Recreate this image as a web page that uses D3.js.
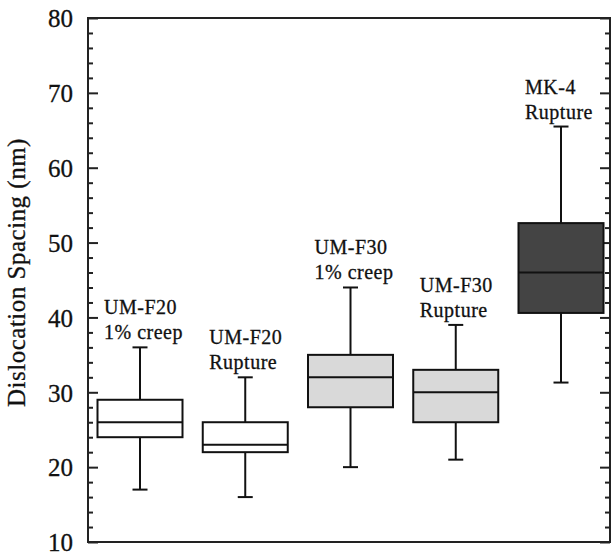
<!DOCTYPE html>
<html lang="en">
    <head>
        <script src="https://d3js.org/d3.v7.min.js"></script>
        <meta charset="UTF-8">
        <title>Dislocation Spacing</title>
        <style>
            body {
            margin: 0;
            background-color: #ffffff;
            }
            svg text {
            font-family: "Liberation Serif", "Times New Roman", serif;
            fill: #111;
            stroke: #111;
            stroke-width: 0.3px;
            }
        </style>
    </head>
    <body>
        <div id="chart"></div>
        <script>
            // categories and box statistics
            const groups = ["UM-F20 1% creep", "UM-F20 Rupture", "UM-F30 1% creep", "UM-F30 Rupture", "MK-4 Rupture"];
            const labelTop = ["UM-F20", "UM-F20", "UM-F30", "UM-F30", "MK-4"];
            const labelBottom = ["1% creep", "Rupture", "1% creep", "Rupture", "Rupture"];
            const whiskerMin = [17, 16, 20, 21, 31.3];
            const q1 = [24, 22, 28, 26, 40.6];
            const median = [26, 23, 32, 30, 46];
            const q3 = [29, 26, 35, 33, 52.6];
            const whiskerMax = [36, 32, 44, 39, 65.5];
            const yTicks = [10, 20, 30, 40, 50, 60, 70, 80];

            const width = 612, height = 552;
            const margin = { top: 18, right: 2, bottom: 10, left: 88 };

            const data = groups.map((g, i) => ({
                group: g, top: labelTop[i], bottom: labelBottom[i],
                min: whiskerMin[i], q1: q1[i], med: median[i], q3: q3[i], max: whiskerMax[i]
            }));

            const svg = d3.select("#chart")
                          .append("svg")
                          .attr("width", width)
                          .attr("height", height);

            const yScale = d3.scaleLinear()
                             .domain([10, 80])
                             .range([height - margin.bottom, margin.top]);

            const xScale = d3.scalePoint()
                             .domain(groups)
                             .range([140, 561]);

            const fill = d3.scaleOrdinal()
                           .domain(groups)
                           .range(["#ffffff", "#ffffff", "#d9d9d9", "#d9d9d9", "#444444"]);

            const left = margin.left, right = width - margin.right;
            const boxW = 85, capW = 15;
            const minorTicks = d3.range(12, 80, 2).filter(v => v % 10 !== 0);

            // frame
            svg.append("rect")
               .attr("x", left)
               .attr("y", yScale(80))
               .attr("width", right - left)
               .attr("height", yScale(10) - yScale(80))
               .attr("fill", "none")
               .attr("stroke", "#222")
               .attr("stroke-width", 2);

            // left axis: major ticks with labels, minor ticks inward
            const leftAxis = svg.append("g")
                .attr("transform", `translate(${left},0)`)
                .call(d3.axisLeft(yScale).tickValues(yTicks).tickSize(-10).tickPadding(15).tickFormat(d3.format("d")));
            leftAxis.selectAll("text").style("font-size", "25px").attr("dy", "0.35em");

            svg.append("g")
               .attr("transform", `translate(${left},0)`)
               .call(d3.axisLeft(yScale).tickValues(minorTicks).tickSize(-5).tickFormat(""));

            svg.append("g")
               .attr("transform", `translate(${right},0)`)
               .call(d3.axisRight(yScale).tickValues(yTicks).tickSize(-10).tickFormat(""));
            svg.append("g")
               .attr("transform", `translate(${right},0)`)
               .call(d3.axisRight(yScale).tickValues(minorTicks).tickSize(-5).tickFormat(""));

            svg.selectAll(".domain").remove();
            svg.selectAll(".tick line").attr("stroke", "#222").attr("stroke-width", 2);

            // y axis title
            svg.append("text")
               .attr("transform", `translate(25,${yScale(46)}) rotate(-90)`)
               .style("text-anchor", "middle")
               .style("font-size", "25px")
               .style("letter-spacing", "0.5px")
               .text("Dislocation Spacing (nm)");

            // boxes
            const box = svg.selectAll(".box")
                           .data(data)
                           .enter()
                           .append("g")
                           .attr("class", "box")
                           .attr("transform", d => `translate(${xScale(d.group)},0)`);

            box.append("line")
               .attr("x1", 0).attr("x2", 0)
               .attr("y1", d => yScale(d.max))
               .attr("y2", d => yScale(d.q3))
               .attr("stroke", "#111").attr("stroke-width", 2);
            box.append("line")
               .attr("x1", 0).attr("x2", 0)
               .attr("y1", d => yScale(d.q1))
               .attr("y2", d => yScale(d.min))
               .attr("stroke", "#111").attr("stroke-width", 2);
            box.append("line")
               .attr("x1", -capW / 2).attr("x2", capW / 2)
               .attr("y1", d => yScale(d.max))
               .attr("y2", d => yScale(d.max))
               .attr("stroke", "#111").attr("stroke-width", 2);
            box.append("line")
               .attr("x1", -capW / 2).attr("x2", capW / 2)
               .attr("y1", d => yScale(d.min))
               .attr("y2", d => yScale(d.min))
               .attr("stroke", "#111").attr("stroke-width", 2);

            box.append("rect")
               .attr("x", -boxW / 2)
               .attr("width", boxW)
               .attr("y", d => yScale(d.q3))
               .attr("height", d => yScale(d.q1) - yScale(d.q3))
               .attr("fill", d => fill(d.group))
               .attr("stroke", "#111")
               .attr("stroke-width", 2);

            box.append("line")
               .attr("x1", -boxW / 2).attr("x2", boxW / 2)
               .attr("y1", d => yScale(d.med))
               .attr("y2", d => yScale(d.med))
               .attr("stroke", "#111").attr("stroke-width", 2);

            // labels above each box
            box.append("text")
               .attr("x", -36)
               .attr("y", d => yScale(d.max) - 33)
               .style("font-size", "20px")
               .style("letter-spacing", "0.5px")
               .text(d => d.top);
            box.append("text")
               .attr("x", -36)
               .attr("y", d => yScale(d.max) - 8)
               .style("font-size", "20px")
               .style("letter-spacing", "0.5px")
               .text(d => d.bottom);
        </script>
    </body>
</html>
